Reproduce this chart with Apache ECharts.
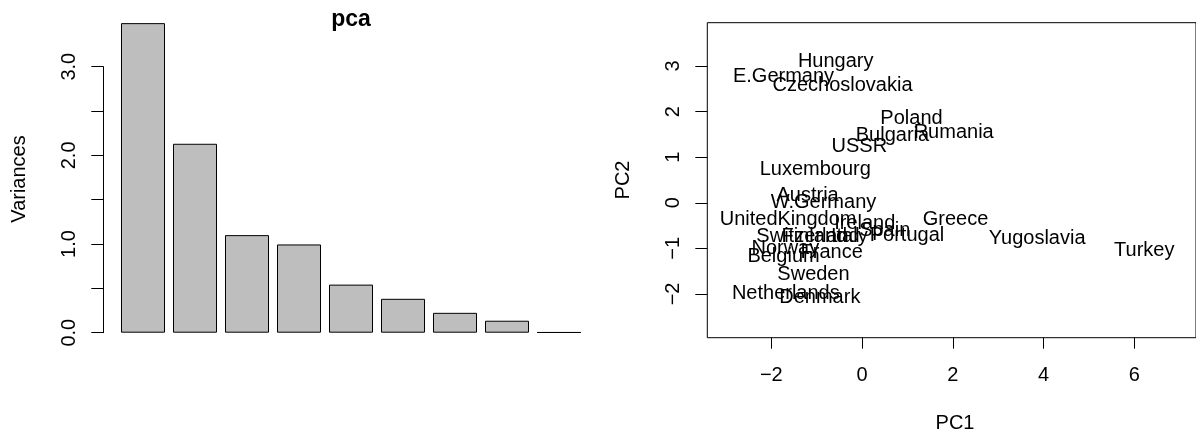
<!DOCTYPE html>
<html>
<head>
<meta charset="utf-8">
<script src="https://cdn.jsdelivr.net/npm/echarts@6/dist/echarts.min.js"></script>
<style>
  html, body { margin: 0; padding: 0; background: #ffffff; }
  #chart { width: 1196px; height: 434px; }
</style>
</head>
<body>
<div id="chart"></div>
<script>
// Scree plot: variance of each principal component
const components = ['Comp.1', 'Comp.2', 'Comp.3', 'Comp.4', 'Comp.5', 'Comp.6', 'Comp.7', 'Comp.8', 'Comp.9'];
const variances = [3.49, 2.13, 1.10, 0.995, 0.542, 0.382, 0.224, 0.135, 0.005];
const varianceTicks = [0, 0.5, 1, 1.5, 2, 2.5, 3];
const varianceLabels = [0, 1, 2, 3];

// Scores on the first two components
const countries = ['Belgium', 'Denmark', 'France', 'W.Germany', 'Ireland', 'Italy', 'Luxembourg',
  'Netherlands', 'UnitedKingdom', 'Austria', 'Finland', 'Greece', 'Norway', 'Portugal', 'Spain',
  'Sweden', 'Switzerland', 'Turkey', 'Bulgaria', 'Czechoslovakia', 'E.Germany', 'Hungary',
  'Poland', 'Rumania', 'USSR', 'Yugoslavia'];
const pc1 = [-1.73, -0.93, -0.67, -0.85, 0.06, -0.28, -1.03,
  -1.68, -1.63, -1.20, -1.05, 2.06, -1.69, 0.99, 0.50,
  -1.07, -1.19, 6.22, 0.67, -0.43, -1.73, -0.58,
  1.09, 2.02, -0.06, 3.86];
const pc2 = [-1.17, -2.07, -1.10, 0.00, -0.45, -0.73, 0.73,
  -1.99, -0.36, 0.17, -0.74, -0.36, -1.00, -0.71, -0.60,
  -1.57, -0.73, -1.04, 1.48, 2.58, 2.76, 3.09,
  1.85, 1.54, 1.23, -0.78];
const pc1Ticks = [-2, 0, 2, 4, 6];
const pc2Ticks = [-2, -1, 0, 1, 2, 3];

const FONT = '"Liberation Sans", Arial, Helvetica, sans-serif';
const INK = '#000000';

const chart = echarts.init(document.getElementById('chart'), null, { renderer: 'canvas' });

const scores = countries.map((c, i) => ({ name: c, value: [pc1[i], pc2[i]] }));
const signed = v => (v < 0 ? '\u2212' + Math.abs(v) : String(v));

const option = {
  backgroundColor: '#ffffff',
  animation: false,
  textStyle: { fontFamily: FONT },
  grid: [
    // axis-only grid: the y axis line runs from 0 to 3
    { left: 103.3, top: 66.7, width: 10, height: 266, show: false },
    // bars
    { left: 117, top: 22.25, width: 468, height: 310.45, show: false },
    // score plot with a full frame
    { left: 707.3, top: 22.7, width: 495.4, height: 315, show: true,
      borderColor: INK, borderWidth: 1, backgroundColor: 'transparent' }
  ],
  xAxis: [
    { gridIndex: 0, type: 'value', show: false, min: 0, max: 1 },
    { gridIndex: 1, type: 'category', data: components, show: false },
    {
      gridIndex: 2, type: 'value', min: -3.41, max: 7.36, position: 'bottom',
      axisLine: { show: false, onZero: false },
      splitLine: { show: false },
      axisTick: { show: true, inside: false, length: 11, customValues: pc1Ticks,
        lineStyle: { color: INK, width: 1 } },
      axisLabel: { show: true, customValues: pc1Ticks, margin: 28, color: INK,
        fontSize: 20, fontFamily: FONT, formatter: signed }
    }
  ],
  yAxis: [
    {
      gridIndex: 0, type: 'value', min: 0, max: 3, interval: 0.5, position: 'left',
      axisLine: { show: true, onZero: false, lineStyle: { color: INK, width: 1 } },
      splitLine: { show: false },
      axisTick: { show: true, inside: false, length: 12, customValues: varianceTicks,
        lineStyle: { color: INK, width: 1 } },
      axisLabel: { show: true, customValues: varianceLabels, rotate: 90, margin: 24,
        color: INK, fontSize: 20, fontFamily: FONT,
        formatter: v => v.toFixed(1) }
    },
    { gridIndex: 1, type: 'value', min: 0, max: 3.5, show: false },
    {
      gridIndex: 2, type: 'value', min: -2.96, max: 3.95, position: 'left',
      axisLine: { show: false, onZero: false },
      splitLine: { show: false },
      axisTick: { show: true, inside: false, length: 12, customValues: pc2Ticks,
        lineStyle: { color: INK, width: 1 } },
      axisLabel: { show: true, customValues: pc2Ticks, rotate: 90, margin: 24,
        color: INK, fontSize: 20, fontFamily: FONT, formatter: signed }
    }
  ],
  series: [
    {
      type: 'bar', xAxisIndex: 1, yAxisIndex: 1,
      data: variances, barWidth: 44,
      itemStyle: { color: '#bebebe', borderColor: INK, borderWidth: 1 },
      silent: true
    },
    {
      type: 'scatter', xAxisIndex: 2, yAxisIndex: 2,
      data: scores, symbolSize: 0,
      itemStyle: { color: INK, opacity: 1 },
      label: {
        show: true, position: 'inside', formatter: p => p.name,
        color: INK, opacity: 1, textBorderWidth: 0, textBorderColor: 'transparent',
        fontSize: 20, fontFamily: FONT
      },
      silent: true
    }
  ],
  graphic: [
    { type: 'text', x: 351, y: 20, style: { text: 'pca', fill: INK,
      font: 'bold 23px ' + FONT, textAlign: 'center', textVerticalAlign: 'middle' } },
    { type: 'text', x: 19.5, y: 179, rotation: Math.PI / 2, style: { text: 'Variances', fill: INK,
      font: '20px ' + FONT, textAlign: 'center', textVerticalAlign: 'middle' } },
    { type: 'text', x: 623.5, y: 180, rotation: Math.PI / 2, style: { text: 'PC2', fill: INK,
      font: '20px ' + FONT, textAlign: 'center', textVerticalAlign: 'middle' } },
    { type: 'text', x: 955, y: 423, style: { text: 'PC1', fill: INK,
      font: '20px ' + FONT, textAlign: 'center', textVerticalAlign: 'middle' } }
  ]
};

chart.setOption(option);
</script>
</body>
</html>
